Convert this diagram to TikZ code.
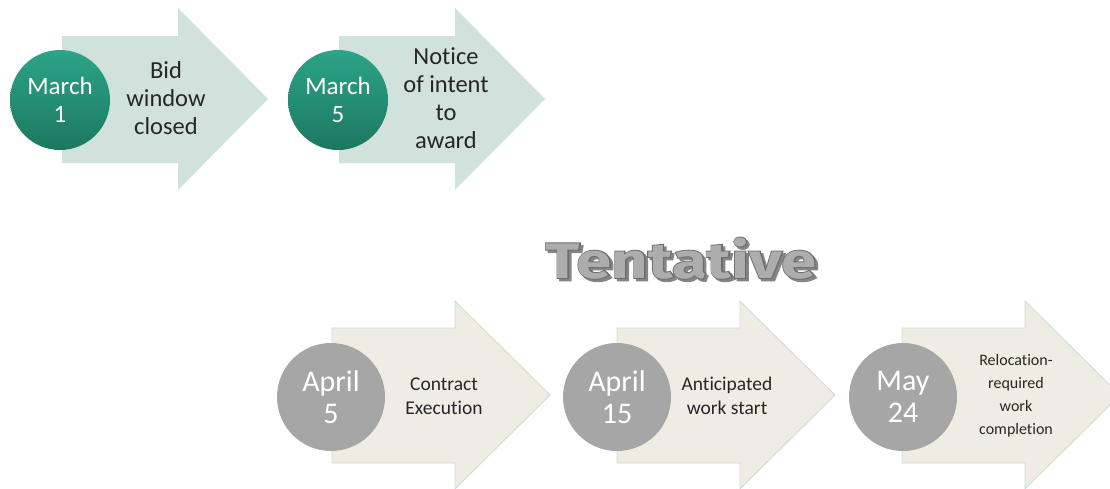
\documentclass[tikz,border=0pt]{standalone}
\usepackage{fontspec}
\setmainfont{Carlito}[Ligatures={NoCommon}]
\newfontfamily\tentfont{Fira Sans}
\newfontfamily\tentout{Fira Sans}[BoldFeatures={FakeBold=3.5}]
\definecolor{toparrow}{HTML}{D1E1DC}
\definecolor{botarrow}{HTML}{EFEDE3}
\definecolor{botedge}{HTML}{C9DCD5}
\definecolor{greentop}{HTML}{2CA487}
\definecolor{greenbot}{HTML}{1C7860}
\definecolor{graycirc}{HTML}{A6A6A6}
\definecolor{txt}{HTML}{262626}
\definecolor{tentfill}{HTML}{ADADAD}
\definecolor{tentedge}{HTML}{6E6E6E}
\definecolor{tentshadow}{HTML}{858585}
\newcommand{\tentword}{\scalebox{1.27}[1]{Tentative}}
\tikzset{
  toparr/.style={fill=toparrow, draw=none},
  botarr/.style={fill=botarrow, draw=botedge, line width=0.8pt},
  greencirc/.style={circle, minimum size=100pt, inner sep=0pt, top color=greentop, bottom color=greenbot, draw=none, text=white, align=center, font=\fontsize{25}{28}\selectfont},
  greycirc/.style={circle, minimum size=108pt, inner sep=0pt, fill=graycirc, draw=none, text=white, align=center, font=\fontsize{30}{32}\selectfont},
  toplabel/.style={text=txt, align=center, font=\fontsize{24.5}{28}\selectfont, inner sep=0pt},
  botlabel/.style={text=txt, align=center, font=\fontsize{19.5}{24}\selectfont, inner sep=0pt},
  smalllabel/.style={text=txt, align=center, font=\fontsize{16}{23}\selectfont, inner sep=0pt},
  tentstyle/.style={font=\tentfont\bfseries\fontsize{50}{50}\selectfont, inner sep=0pt, anchor=base},
  tentoutstyle/.style={font=\tentout\bfseries\fontsize{50}{50}\selectfont, inner sep=0pt, anchor=base}
}
\begin{document}
\begin{tikzpicture}[x=1pt,y=-1pt]
\useasboundingbox (0,0) rectangle (1110,488);
\clip (0,0) rectangle (1110,488);
% top arrows
\foreach \dx in {0,277}{
  \fill[toparr] (62+\dx,36) -- (178+\dx,36) -- (178+\dx,8) -- (268+\dx,99) -- (178+\dx,190) -- (178+\dx,163) -- (62+\dx,163) -- cycle;
}
\node[greencirc] (c1) at (60,100) {March\\1};
\node[greencirc] (c2) at (338,100) {March\\5};
\node[toplabel] (t1) at (166,98) {Bid\\window\\closed};
\node[toplabel] (t2) at (446,98) {Notice\\of intent\\to\\award};
% tentative
\node[tentoutstyle, text=tentshadow] (tentsh) at (683.5,280.5) {\tentword};
\node[tentoutstyle, text=tentedge] (tentout) at (681,278) {\tentword};
\node[tentstyle, text=tentfill] (tent) at (681,278) {\tentword};
% bottom arrows
\foreach \dx in {0,285,570}{
  \filldraw[botarr] (332+\dx,328) -- (455+\dx,328) -- (455+\dx,301) -- (550+\dx,395) -- (455+\dx,489) -- (455+\dx,463) -- (332+\dx,463) -- cycle;
}
\node[greycirc] (c3) at (331,397) {April\\5};
\node[greycirc] (c4) at (617,397) {April\\15};
\node[greycirc] (c5) at (903,397) {May\\24};
\node[botlabel] (t3) at (444,396) {Contract\\Execution};
\node[botlabel] (t4) at (727,396) {Anticipated\\work start};
\node[smalllabel] (t5) at (1016,396) {Relocation-\\required\\work\\completion};
\end{tikzpicture}
\end{document}
